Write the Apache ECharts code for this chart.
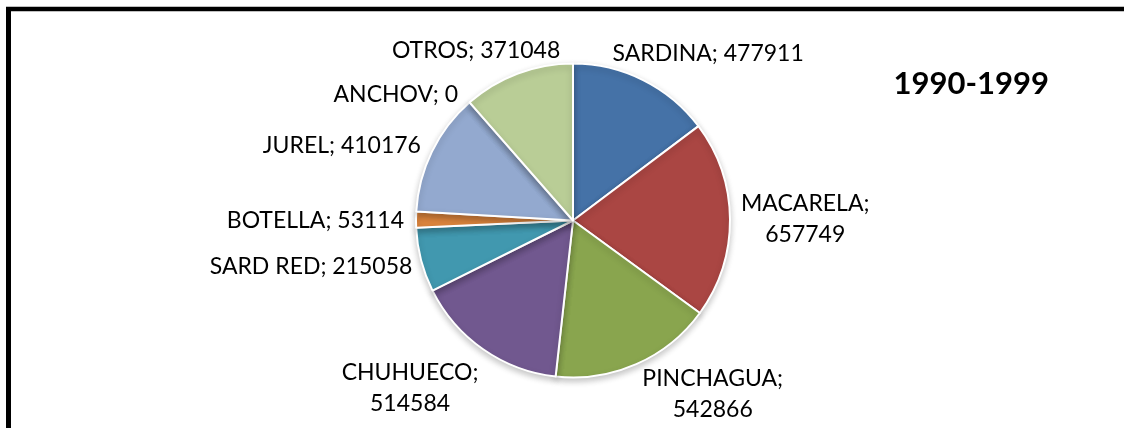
<!DOCTYPE html>
<html>
<head>
<meta charset="utf-8">
<script src="https://cdn.jsdelivr.net/npm/echarts@6/dist/echarts.min.js"></script>
<style>
html,body{margin:0;padding:0;background:#fff;}
#chart{width:1124px;height:428px;}
</style>
</head>
<body>
<div id="chart"></div>
<script>
const categories = ['SARDINA', 'MACARELA', 'PINCHAGUA', 'CHUHUECO', 'SARD RED', 'BOTELLA', 'JUREL', 'ANCHOV', 'OTROS'];
const values = [477911, 657749, 542866, 514584, 215058, 53114, 410176, 0, 371048];
const title = '1990-1999';

const colors = ['#4572A7', '#AA4643', '#89A54E', '#71588F', '#4198AF', '#DB843D', '#93A9CF', '#D19392', '#B9CD96'];
const wrapped = { 'MACARELA': true, 'PINCHAGUA': true, 'CHUHUECO': true };
const labelOffsets = {
  'SARDINA': [-40, -18],
  'MACARELA': [-4, 0],
  'PINCHAGUA': [-3, 21],
  'CHUHUECO': [6, 31],
  'SARD RED': [6, 4],
  'BOTELLA': [3, 1],
  'JUREL': [3, -2],
  'OTROS': [51, -14]
};

const chart = echarts.init(document.getElementById('chart'), null, { renderer: 'canvas' });
const option = {
  backgroundColor: '#ffffff',
  animation: false,
  title: {
    text: title,
    right: 70,
    top: 63,
    textStyle: { fontFamily: 'Lato', fontWeight: 'bold', fontSize: 31, color: '#000' }
  },
  graphic: [
    { type: 'line', shape: { x1: 6, y1: 9, x2: 1124, y2: 9 }, style: { stroke: '#000', lineWidth: 4.5 } },
    { type: 'line', shape: { x1: 8.5, y1: 7, x2: 8.5, y2: 428 }, style: { stroke: '#000', lineWidth: 5 } }
  ],
  series: [{
    type: 'pie',
    center: [573, 220.5],
    radius: 157,
    startAngle: 90,
    clockwise: true,
    avoidLabelOverlap: false,
    data: categories.map((c, i) => ({ name: c, value: values[i], itemStyle: { color: colors[i] } })),
    itemStyle: {
      borderColor: '#ffffff',
      borderWidth: 2,
      shadowBlur: 6,
      shadowOffsetY: 3,
      shadowColor: 'rgba(0,0,0,0.22)'
    },
    label: {
      show: true,
      position: 'outside',
      fontFamily: 'Lato',
      fontSize: 23,
      color: '#000',
      lineHeight: 31,
      formatter: p => '{c|' + p.name + ';' + (wrapped[p.name] ? '}\n{c|' : ' ') + p.value + '}',
      rich: { c: { align: 'center', fontFamily: 'Lato', fontSize: 23, color: '#000', lineHeight: 31 } }
    },
    labelLine: { show: false, length: 10, length2: 0 },
    labelLayout: p => {
      const o = labelOffsets[categories[p.dataIndex]] || [0, 0];
      return { dx: o[0], dy: o[1] };
    },
    emphasis: { disabled: true }
  }]
};
chart.setOption(option);
</script>
</body>
</html>
